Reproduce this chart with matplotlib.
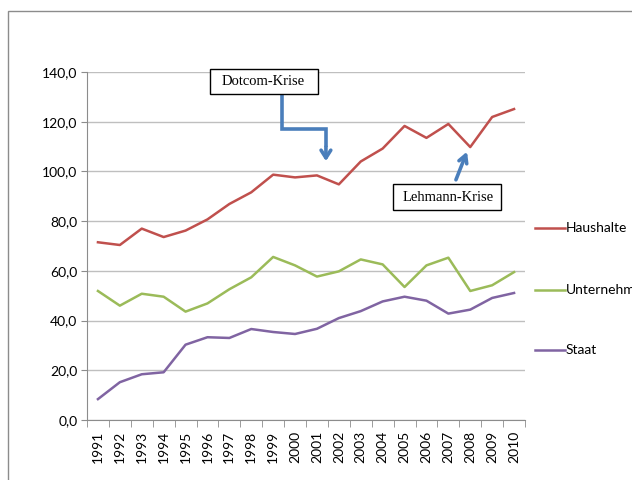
import matplotlib
matplotlib.use("Agg")
from matplotlib import pyplot as plt
from matplotlib.patches import Rectangle
from matplotlib.ticker import FuncFormatter
import numpy as np

# Data
years = [str(y) for y in range(1991, 2011)]
haushalte = [71.5, 70.4, 77.0, 73.6, 76.2, 80.7, 86.9, 91.6, 98.7, 97.6,
             98.4, 94.8, 104.0, 109.2, 118.3, 113.5, 119.1, 109.8, 121.9, 125.1]
unternehmen = [51.9, 46.0, 50.8, 49.6, 43.6, 46.9, 52.6, 57.4, 65.6, 62.2,
               57.7, 59.8, 64.6, 62.6, 53.5, 62.2, 65.3, 51.9, 54.2, 59.5]
staat = [8.4, 15.2, 18.4, 19.2, 30.3, 33.3, 33.0, 36.6, 35.4, 34.6,
         36.7, 41.0, 43.8, 47.7, 49.6, 48.0, 42.8, 44.4, 49.1, 51.1]
y_ticks = [0, 20, 40, 60, 80, 100, 120, 140]


def main():
    plt.rcParams["font.family"] = ["Lato", "DejaVu Sans"]
    fig = plt.figure(figsize=(6.32, 4.8), dpi=100)
    ax = fig.add_axes([87 / 632, 60 / 480, 438 / 632, 348 / 480])

    # Outer chart frame
    fig.patches.append(Rectangle((8 / 632, -0.1), 1.0, 1 - 11 / 480 + 0.1,
                                 transform=fig.transFigure, fill=False,
                                 edgecolor="#8c8c8c", linewidth=1.0))

    x = np.arange(len(years))
    ax.plot(x, haushalte, color="#C0504D", lw=1.8, label="Haushalte")
    ax.plot(x, unternehmen, color="#9BBB59", lw=1.8, label="Unternehmen")
    ax.plot(x, staat, color="#8064A2", lw=1.8, label="Staat")

    ax.set_xlim(-0.5, len(years) - 0.5)
    ax.set_ylim(0, 140)
    ax.set_yticks(y_ticks)
    ax.yaxis.set_major_formatter(FuncFormatter(lambda v, p: f"{v:.1f}".replace(".", ",")))
    ax.grid(axis="y", color="#bfbfbf", lw=1.0)
    ax.set_axisbelow(True)

    ax.set_xticks(x)
    ax.set_xticklabels(years, rotation=90)
    ax.set_xticks(np.arange(-0.5, len(years)), minor=True)
    ax.tick_params(axis="x", which="major", length=0, pad=8, labelsize=10)
    ax.tick_params(axis="x", which="minor", length=5, color="#8c8c8c")
    ax.tick_params(axis="y", length=4, color="#8c8c8c", labelsize=10, pad=3)
    for s in ["top", "right"]:
        ax.spines[s].set_visible(False)
    for s in ["left", "bottom"]:
        ax.spines[s].set_color("#8c8c8c")

    # Legend entries at the right
    legend_y = [228, 290, 350]
    for line, ly in zip(ax.get_lines(), legend_y):
        yf = 1 - ly / 480
        fig.lines.append(plt.Line2D([535 / 632, 565 / 632], [yf, yf],
                                    transform=fig.transFigure,
                                    color=line.get_color(), lw=1.8))
        fig.text(566 / 632, yf, line.get_label(), va="center", ha="left",
                 fontsize=10)

    # Annotation boxes
    blue = "#4A7EBB"
    ax.add_patch(Rectangle((5.1, 131.1), 4.95, 10.1, facecolor="white",
                           edgecolor="black", lw=1.0, clip_on=False, zorder=5))
    ax.text(5.65, 136.1, "Dotcom-Krise", family="Liberation Serif",
            fontsize=10.5, va="center", zorder=6)
    ax.add_patch(Rectangle((13.45, 84.5), 4.95, 10.5, facecolor="white",
                           edgecolor="black", lw=1.0, clip_on=False, zorder=5))
    ax.text(13.9, 89.6, "Lehmann-Krise", family="Liberation Serif",
            fontsize=10.5, va="center", zorder=6)

    # Elbow arrow for the dotcom crisis
    ax.plot([8.4, 8.4, 10.41, 10.41], [131.1, 117.1, 117.1, 110],
            color=blue, lw=2.6, clip_on=False, solid_joinstyle="miter",
            solid_capstyle="butt")
    ax.annotate("", xy=(10.41, 103.0), xytext=(10.41, 111),
                arrowprops=dict(arrowstyle="->,head_length=0.55,head_width=0.35",
                                color=blue, lw=2.6))
    ax.annotate("", xy=(16.9, 109.0), xytext=(16.3, 95.6),
                arrowprops=dict(arrowstyle="->,head_length=0.55,head_width=0.3",
                                color=blue, lw=2.6))

    fig.savefig("out.png", dpi=100)


if __name__ == "__main__":
    main()
